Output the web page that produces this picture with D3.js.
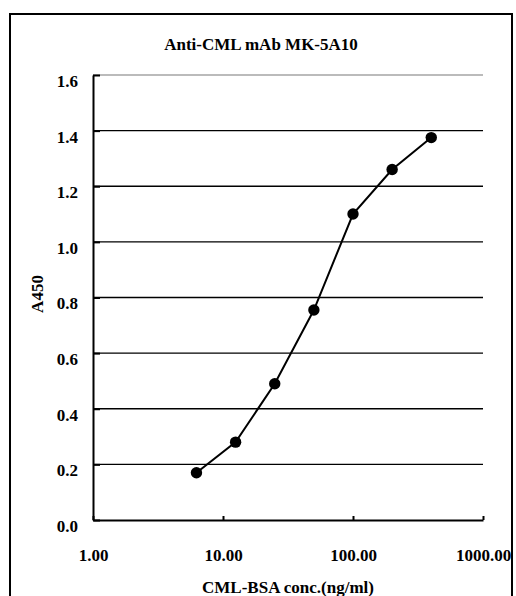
<!DOCTYPE html>
<html><head><meta charset="utf-8">
<script src="https://cdn.jsdelivr.net/npm/d3@7/dist/d3.min.js"></script>
<style>body{margin:0;background:#fff}svg{display:block}text{font-family:"Liberation Serif","Times New Roman",serif;font-weight:bold;fill:#000}</style>
</head><body>
<script>
const concentrations = [6.25, 12.5, 25, 50, 100, 200, 400];
const absorbance = [0.17, 0.28, 0.49, 0.755, 1.10, 1.26, 1.375];
const xTicks = [1, 10, 100, 1000];
const yTicks = [0, 0.2, 0.4, 0.6, 0.8, 1.0, 1.2, 1.4, 1.6];
const title = "Anti-CML mAb MK-5A10";
const xTitle = "CML-BSA conc.(ng/ml)";
const yTitle = "A450";

const W = 516, H = 596;
const m = {left: 93, right: 33, top: 75, bottom: 76};
const svg = d3.select("body").append("svg").attr("width", W).attr("height", H);

svg.append("rect").attr("x", 10).attr("y", 14).attr("width", 502).attr("height", 600)
  .attr("fill", "none").attr("stroke", "#000").attr("stroke-width", 2);

const x = d3.scaleLog().domain([1, 1000]).range([m.left, W - m.right]);
const y = d3.scaleLinear().domain([0, 1.6]).range([H - m.bottom, m.top]);

// gridlines
svg.append("g").selectAll("line").data(yTicks.filter(d => d > 0)).join("line")
  .attr("x1", m.left).attr("x2", W - m.right)
  .attr("y1", d => y(d)).attr("y2", d => y(d))
  .attr("stroke", d => d === 1.6 ? "#bbb" : "#000")
  .attr("stroke-width", d => d === 1.6 ? 2 : 1.3);

// y axis
const yAxis = svg.append("g").attr("transform", `translate(${m.left},0)`)
  .call(d3.axisLeft(y).tickValues(yTicks).tickFormat(d3.format(".1f")).tickSizeInner(-7).tickSizeOuter(0).tickPadding(15));
yAxis.select(".domain").attr("stroke-width", 2);
yAxis.selectAll(".tick line").attr("stroke-width", 2);
yAxis.selectAll(".tick text").attr("font-size", 17).attr("dy", "0.32em").attr("y", 6)
  .style("font-family", '"Liberation Serif",serif').style("font-weight", "bold");

// x axis
const xAxis = svg.append("g").attr("transform", `translate(0,${y(0)})`)
  .call(d3.axisBottom(x).tickValues(xTicks).tickFormat(d3.format(".2f")).tickSizeInner(-4).tickSizeOuter(0).tickPadding(0));
xAxis.select(".domain").attr("stroke-width", 2);
xAxis.selectAll(".tick line").attr("stroke-width", 2);
xAxis.selectAll(".tick text").attr("font-size", 17).attr("y", 41).attr("dy", 0)
  .style("font-family", '"Liberation Serif",serif').style("font-weight", "bold");

// line + points
const pts = concentrations.map((c, i) => [c, absorbance[i]]);
svg.append("path").datum(pts)
  .attr("d", d3.line().x(d => x(d[0])).y(d => y(d[1])))
  .attr("fill", "none").attr("stroke", "#000").attr("stroke-width", 2);
svg.append("g").selectAll("circle").data(pts).join("circle")
  .attr("cx", d => x(d[0])).attr("cy", d => y(d[1])).attr("r", 5.7).attr("fill", "#000");

// titles
svg.append("text").attr("x", 261).attr("y", 50).attr("text-anchor", "middle").attr("font-size", 17).text(title);
svg.append("text").attr("x", 288).attr("y", 593).attr("text-anchor", "middle").attr("font-size", 17).text(xTitle);
svg.append("text").attr("transform", "translate(43,294) rotate(-90)").attr("text-anchor", "middle").attr("font-size", 17).text(yTitle);
</script>
</body></html>
